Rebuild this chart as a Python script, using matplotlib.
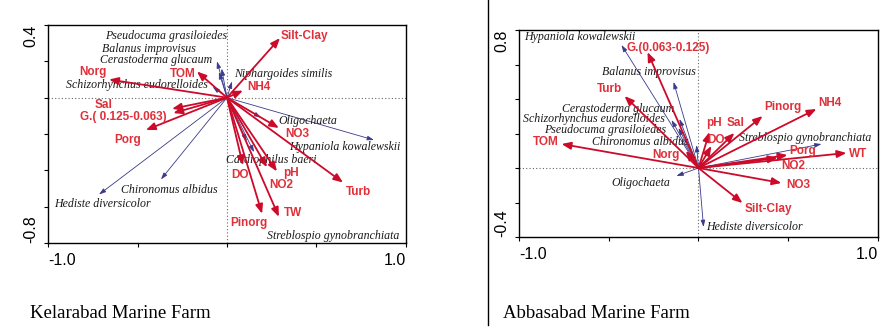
import matplotlib as mpl
mpl.use('Agg')
import matplotlib.pyplot as plt
from matplotlib.lines import Line2D
import numpy as np

# ---- Kelarabad: environmental vectors (axis 1, axis 2 scores) ----
kel_env = ['Silt-Clay', 'TOM', 'Norg', 'NH4', 'Sal', 'G.( 0.125-0.063)', 'Porg',
           'NO3', 'Turb', 'pH', 'NO2', 'DO', 'TW', 'Pinorg']
kel_env_x = [0.296, -0.168, -0.659, 0.089, -0.307, -0.300, -0.453,
             0.290, 0.648, 0.279, 0.223, 0.089, 0.290, 0.196]
kel_env_y = [0.328, 0.144, 0.100, 0.039, -0.061, -0.085, -0.178,
             -0.167, -0.467, -0.406, -0.383, -0.372, -0.656, -0.639]

# ---- Kelarabad: species ----
kel_sp = ['Pseudocuma grasiloiedes', 'Balanus improvisus', 'Cerastoderma glucaum',
          'Niphargoides similis', 'Schizorhynchus eudorelloides', 'Oligochaeta',
          'Hypaniola kowalewskii', 'Cardiophilus baeri', 'Streblospio gynobranchiata',
          'Chironomus albidus', 'Hediste diversicolor']
kel_sp_x = [-0.030, -0.045, -0.056, 0.028, -0.080, 0.190, 0.821, 0.151, 0.110, -0.369, -0.715]
kel_sp_y = [0.160, 0.140, 0.200, 0.089, 0.060, -0.110, -0.233, -0.300, -0.240, -0.450, -0.533]

# ---- Abbasabad: environmental vectors ----
abb_env = ['G.(0.063-0.125)', 'Turb', 'TOM', 'Norg', 'pH', 'DO', 'Sal',
           'Pinorg', 'NH4', 'Porg', 'WT', 'NO2', 'NO3', 'Silt-Clay']
abb_env_x = [-0.284, -0.412, -0.763, -0.070, 0.061, 0.072, 0.200,
             0.357, 0.657, 0.496, 0.824, 0.440, 0.462, 0.245]
abb_env_y = [0.672, 0.417, 0.139, 0.100, 0.209, 0.128, 0.203,
             0.301, 0.342, 0.075, 0.087, 0.058, -0.087, -0.203]

# ---- Abbasabad: species ----
abb_sp = ['Hypaniola kowalewskii', 'Balanus improvisus', 'Cerastoderma glucaum',
          'Schizorhynchus eudorelloides', 'Pseudocuma grasiloiedes', 'Chironomus albidus',
          'Streblospio gynobranchiata', 'Oligochaeta', 'Hediste diversicolor']
abb_sp_x = [-0.429, -0.139, -0.150, -0.106, -0.111, -0.011, 0.685, -0.123, 0.028]
abb_sp_y = [0.713, 0.499, 0.278, 0.284, 0.232, 0.133, 0.139, -0.046, -0.342]

# label anchors (left edge, vertical centre) in axis units
kel_env_lab = [(0.302, 0.339), (-0.318, 0.130), (-0.827, 0.144), (0.112, 0.061),
               (-0.737, -0.039), (-0.821, -0.106), (-0.631, -0.233), (0.324, -0.200),
               (0.665, -0.517), (0.313, -0.417), (0.235, -0.478), (0.022, -0.428),
               (0.318, -0.633), (0.017, -0.689)]
kel_sp_lab = [(-0.682, 0.339), (-0.698, 0.267), (-0.709, 0.205), (0.039, 0.128),
              (-0.899, 0.067), (0.285, -0.128), (0.346, -0.272), (-0.006, -0.344),
              (0.223, -0.761), (-0.592, -0.506), (-0.966, -0.583)]
abb_env_lab = [(-0.401, 0.696), (-0.568, 0.458), (-0.925, 0.151), (-0.256, 0.078),
               (0.045, 0.261), (0.050, 0.162), (0.156, 0.261), (0.368, 0.354),
               (0.669, 0.377), (0.507, 0.099), (0.836, 0.081), (0.462, 0.012),
               (0.490, -0.099), (0.256, -0.238)]
abb_sp_lab = [(-0.969, 0.759), (-0.540, 0.557), (-0.758, 0.342), (-0.980, 0.282),
              (-0.858, 0.222), (-0.591, 0.150), (0.228, 0.174), (-0.485, -0.087),
              (0.045, -0.342)]

RED_ARROW = '#cc0a2a'
RED_TEXT = '#e0303a'
BLUE = '#3a3a8a'


def biplot(ax, env, ex, ey, elab, sp, sx, sy, slab, ylim):
    ax.set_xlim(-1.0, 1.0)
    ax.set_ylim(*ylim)
    ax.axhline(0, ls=(0, (1, 2)), color='#666666', lw=0.8, zorder=0)
    ax.axvline(0, ls=(0, (1, 2)), color='#666666', lw=0.8, zorder=0)

    for x, y in zip(sx, sy):
        ax.annotate('', xy=(x, y), xytext=(0, 0),
                    arrowprops=dict(arrowstyle='-|>,head_length=0.4,head_width=0.13',
                                    color=BLUE, lw=0.6, shrinkA=0, shrinkB=0,
                                    mutation_scale=10), zorder=2)
    for name, (lx, ly) in zip(sp, slab):
        ax.text(lx, ly, name, ha='left', va='center', fontsize=8.6, style='italic',
                family='Liberation Serif', color='#1a1a1a', zorder=3)

    for x, y in zip(ex, ey):
        ax.annotate('', xy=(x, y), xytext=(0, 0),
                    arrowprops=dict(arrowstyle='-|>,head_length=0.55,head_width=0.22',
                                    color=RED_ARROW, lw=1.3, shrinkA=0, shrinkB=0,
                                    mutation_scale=10), zorder=4)
    for name, (lx, ly) in zip(env, elab):
        ax.text(lx, ly, name, ha='left', va='center', fontsize=8.5, fontweight='bold',
                family='Liberation Sans', color=RED_TEXT, zorder=5)

    xt = [-1.0, -0.5, 0.0, 0.5, 1.0]
    ax.set_xticks(xt)
    ax.set_xticklabels(['-1.0', '', '', '', '1.0'])
    yt = np.round(np.arange(ylim[0], ylim[1] + 0.01, 0.2), 1)
    ax.set_yticks(yt)
    ax.set_yticklabels([f'{yt[0]:.1f}'] + [''] * (len(yt) - 2) + [f'{yt[-1]:.1f}'],
                       rotation=90)
    ax.tick_params(direction='out', length=3, width=0.8, labelsize=11.5, pad=4)
    for t in ax.get_xticklabels() + ax.get_yticklabels():
        t.set_family('Liberation Sans')
    xl = ax.get_xticklabels()
    xl[0].set_ha('left')
    xl[-1].set_ha('right')
    yl = ax.get_yticklabels()
    yl[0].set_va('bottom')
    yl[-1].set_va('top')
    for s in ax.spines.values():
        s.set_linewidth(1.0)


fig = plt.figure(figsize=(8.95, 3.32), dpi=100)
ax1 = fig.add_axes([48 / 895, 1 - 243 / 332, 358 / 895, 218 / 332])
ax2 = fig.add_axes([519 / 895, 1 - 237 / 332, 359 / 895, 207 / 332])

biplot(ax1, kel_env, kel_env_x, kel_env_y, kel_env_lab,
       kel_sp, kel_sp_x, kel_sp_y, kel_sp_lab, (-0.8, 0.4))
biplot(ax2, abb_env, abb_env_x, abb_env_y, abb_env_lab,
       abb_sp, abb_sp_x, abb_sp_y, abb_sp_lab, (-0.4, 0.8))

# divider between the two panels
fig.add_artist(Line2D([488 / 895, 488 / 895], [1.0, 1 - 325 / 332],
                      transform=fig.transFigure, color='black', lw=1.0))

fig.text(30 / 895, 1 - 313 / 332, 'Kelarabad Marine Farm', family='Liberation Serif',
         fontsize=13.5, va='center')
fig.text(503 / 895, 1 - 313 / 332, 'Abbasabad Marine Farm', family='Liberation Serif',
         fontsize=13.5, va='center')

fig.savefig('out.png', dpi=100)
